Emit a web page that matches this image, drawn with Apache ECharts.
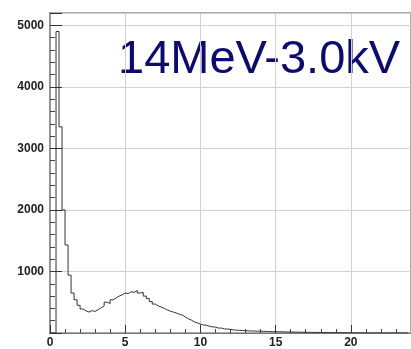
<!DOCTYPE html>
<html><head><meta charset="utf-8">
<script src="https://cdn.jsdelivr.net/npm/echarts@6/dist/echarts.min.js"></script>
<style>html,body{margin:0;padding:0;background:#fff}#c{width:411px;height:349px}</style>
</head><body><div id="c"></div>
<script>
const titleText = "14MeV-3.0kV";
const binEdges = [0.0,0.2,0.4,0.6,0.8,1.0,1.2,1.4,1.6,1.8,2.0,2.2,2.4,2.6,2.8,3.0,3.2,3.4,3.6,3.8,
4.0,4.2,4.4,4.6,4.8,5.0,5.2,5.4,5.6,5.8,6.0,6.2,6.4,6.6,6.8,7.0,7.2,7.4,7.6,7.8,
8.0,8.2,8.4,8.6,8.8,9.0,9.2,9.4,9.6,9.8,10.0,10.2,10.4,10.6,10.8,11.0,11.2,11.4,11.6,11.8,
12.0,12.2,12.4,12.6,12.8,13.0,13.2,13.4,13.6,13.8,14.0,14.2,14.4,14.6,14.8,15.0,15.2,15.4,15.6,15.8,
16.0,16.2,16.4,16.6,16.8,17.0,17.2,17.4,17.6,17.8,18.0,18.2,18.4,18.6,18.8,19.0,19.2,19.4,19.6,19.8,
20.0,20.2,20.4,20.6,20.8,21.0,21.2,21.4,21.6,21.8,22.0,22.2,22.4,22.6,22.8,23.0,23.2,23.4,23.6,23.8];
const counts = [0,0,4900,3350,2000,1430,940,650,540,450,390,360,340,365,350,380,410,440,500,480,
540,570,600,620,650,640,670,660,690,650,660,600,560,510,470,440,420,400,375,355,
340,325,305,290,260,230,210,180,165,145,130,125,110,100,95,80,80,65,65,60,
50,46,42,40,37,35,33,31,30,28,27,25,24,22,21,20,19,18,17,16,
15,14,13,12,12,11,10,10,9,8,8,7,7,6,6,5,5,4,4,3,
3,2,2,2,2,1,1,1,1,1,1,1,1,1,1,1,1,1,1,1];

const chart = echarts.init(document.getElementById('c'));
const lblFont = {fontFamily:'Liberation Sans, Arial, sans-serif', fontWeight:'bold', fontSize:12, color:'#222'};
chart.setOption({
  animation:false,
  grid:{left:50, top:13, right:0, bottom:16, show:true, borderColor:'#aaa', borderWidth:2},
  xAxis:{
    type:'value', min:0, max:24, interval:5,
    axisLine:{show:true, lineStyle:{color:'#777', width:1}},
    axisTick:{show:true, inside:true, length:8, lineStyle:{color:'#333', width:1}},
    minorTick:{show:true, splitNumber:5, length:4, lineStyle:{color:'#444', width:1}},
    splitLine:{show:true, lineStyle:{color:'#d0d0d0', width:1}},
    axisLabel:Object.assign({margin:4, showMaxLabel:false, formatter:function(v){return String(v);}}, lblFont)
  },
  yAxis:{
    type:'value', min:0, max:5200, interval:1000,
    axisLine:{show:true, lineStyle:{color:'#888', width:1.5}},
    axisTick:{show:true, inside:true, length:12, lineStyle:{color:'#333', width:1}},
    minorTick:{show:true, splitNumber:5, length:5, lineStyle:{color:'#444', width:1}},
    splitLine:{show:true, lineStyle:{color:'#d0d0d0', width:1}},
    axisLabel:Object.assign({margin:6, showMinLabel:false, showMaxLabel:false, formatter:function(v){return String(v);}}, lblFont)
  },
  series:[{
    type:'line', step:'end', showSymbol:false, symbol:'none',
    data: binEdges.map((e,i)=>[e, counts[i]]),
    lineStyle:{color:'#333', width:1}
  }],
  graphic:[{
    type:'text', left:118, top:37,
    style:{text:titleText, font:'47px "Liberation Sans", Arial, sans-serif', fill:'#0b0c6e'}
  }]
});
</script></body></html>
